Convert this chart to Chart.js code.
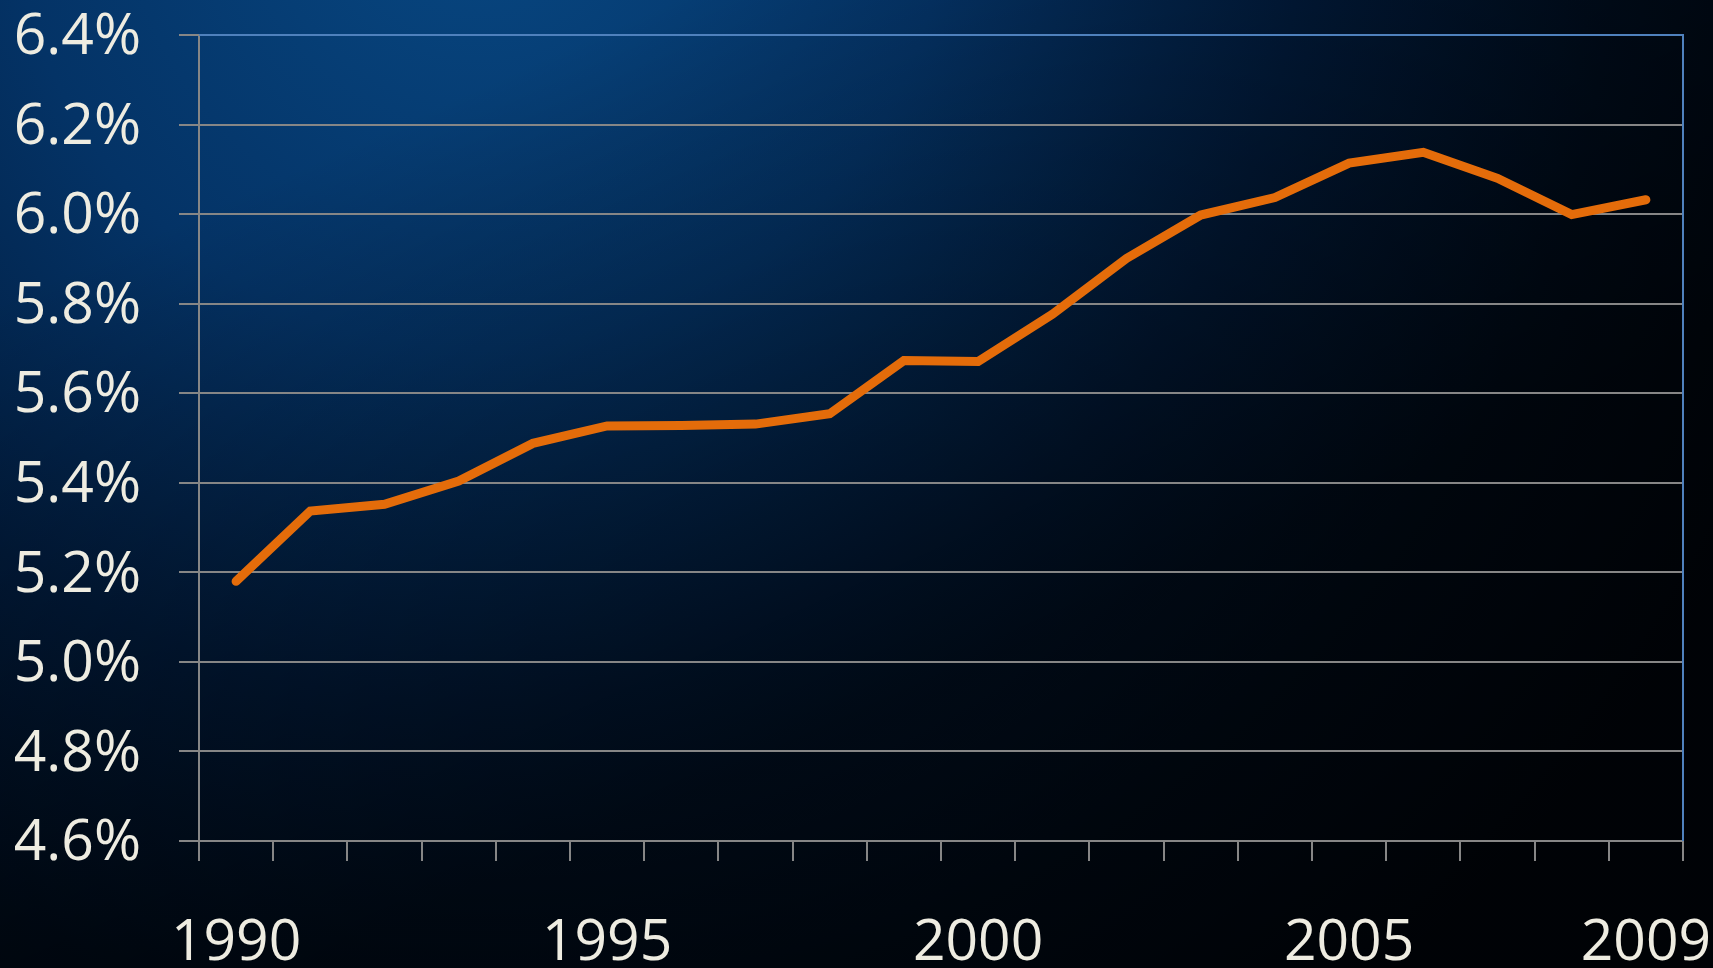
<!DOCTYPE html>
<html>
<head>
<meta charset="utf-8">
<style>
  html, body { margin: 0; padding: 0; background: #000; overflow: hidden; }
  #wrap { width: 1713px; height: 968px; }
</style>
<script src="https://cdn.jsdelivr.net/npm/chart.js@4/dist/chart.umd.min.js"></script>
</head>
<body>
<div id="wrap"><canvas id="chart"></canvas></div>
<script>
var years = ['1990', '1991', '1992', '1993', '1994', '1995', '1996', '1997', '1998', '1999',
             '2000', '2001', '2002', '2003', '2004', '2005', '2006', '2007', '2008', '2009'];
var shownYears = ['1990', '1995', '2000', '2005', '2009'];
var shares = [5.180, 5.337, 5.352, 5.404, 5.488, 5.527, 5.528, 5.531, 5.554, 5.673,
              5.671, 5.776, 5.901, 5.998, 6.037, 6.114, 6.138, 6.080, 5.999, 6.032];
var yMin = 4.6;
var yMax = 6.4;
var yStep = 0.2;

var textColor = '#eeece1';
var gridColor = '#868686';
var frameColor = '#4f81bd';

// slide-like background + blue frame on top/right of the plot
var backdrop = {
    id: 'backdrop',
    beforeDraw: function (chart) {
        var ctx = chart.ctx;
        var w = chart.width, h = chart.height;
        var g = ctx.createRadialGradient(480, -120, 0, 480, -120, 1420);
        g.addColorStop(0, '#084883');
        g.addColorStop(0.33, '#043366');
        g.addColorStop(0.58, '#011c3e');
        g.addColorStop(0.8, '#000e20');
        g.addColorStop(1, '#00060f');
        ctx.save();
        ctx.fillStyle = g;
        ctx.fillRect(0, 0, w, h);
        // darker towards the bottom-left corner
        var v = ctx.createLinearGradient(0, 300, 300, h);
        v.addColorStop(0, 'rgba(0,0,0,0)');
        v.addColorStop(1, 'rgba(0,0,0,0.6)');
        ctx.fillStyle = v;
        ctx.fillRect(0, 0, w, h);
        ctx.restore();
    },
    afterDraw: function (chart) {
        var a = chart.chartArea;
        var ctx = chart.ctx;
        ctx.save();
        ctx.strokeStyle = frameColor;
        ctx.lineWidth = 2;
        ctx.beginPath();
        ctx.moveTo(a.left, a.top);
        ctx.lineTo(a.right, a.top);
        ctx.lineTo(a.right, a.bottom);
        ctx.stroke();
        ctx.restore();
    }
};

var ctx = document.getElementById('chart').getContext('2d');
var chart = new Chart(ctx, {
    type: 'line',
    data: {
        labels: years,
        datasets: [{
            data: shares,
            borderColor: '#e46c0a',
            borderWidth: 9,
            borderCapStyle: 'round',
            borderJoinStyle: 'miter',
            pointRadius: 0,
            tension: 0,
            fill: false
        }]
    },
    options: {
        responsive: true,
        maintainAspectRatio: false,
        animation: false,
        layout: { padding: { left: 15, right: 30, top: 35, bottom: 0 } },
        plugins: {
            legend: { display: false },
            tooltip: { enabled: false }
        },
        scales: {
            x: {
                type: 'category',
                offset: true,
                border: { color: gridColor, width: 2 },
                grid: {
                    offset: true,
                    drawOnChartArea: false,
                    drawTicks: true,
                    tickLength: 20,
                    color: gridColor,
                    lineWidth: 2
                },
                ticks: {
                    autoSkip: false,
                    maxRotation: 0,
                    padding: 54,
                    color: textColor,
                    font: { family: 'Open Sans', size: 57, lineHeight: 1.0 },
                    callback: function (value, index) {
                        var lab = years[index];
                        return shownYears.indexOf(lab) >= 0 ? lab : '';
                    }
                },
                afterFit: function (scale) {
                    scale.height = 127;
                    scale.paddingLeft = 0;
                    scale.paddingRight = 0;
                }
            },
            y: {
                min: yMin,
                max: yMax,
                border: { color: gridColor, width: 2 },
                grid: {
                    color: gridColor,
                    lineWidth: 2,
                    tickLength: 20
                },
                ticks: {
                    stepSize: yStep,
                    padding: 38,
                    labelOffset: 3,
                    color: textColor,
                    font: { family: 'Open Sans', size: 57, lineHeight: 1.0 },
                    callback: function (v) { return v.toFixed(1) + '%'; }
                },
                afterFit: function (scale) {
                    scale.width = 184;
                    scale.paddingTop = 0;
                    scale.paddingBottom = 0;
                }
            }
        }
    },
    plugins: [backdrop]
});
</script>
</body>
</html>
